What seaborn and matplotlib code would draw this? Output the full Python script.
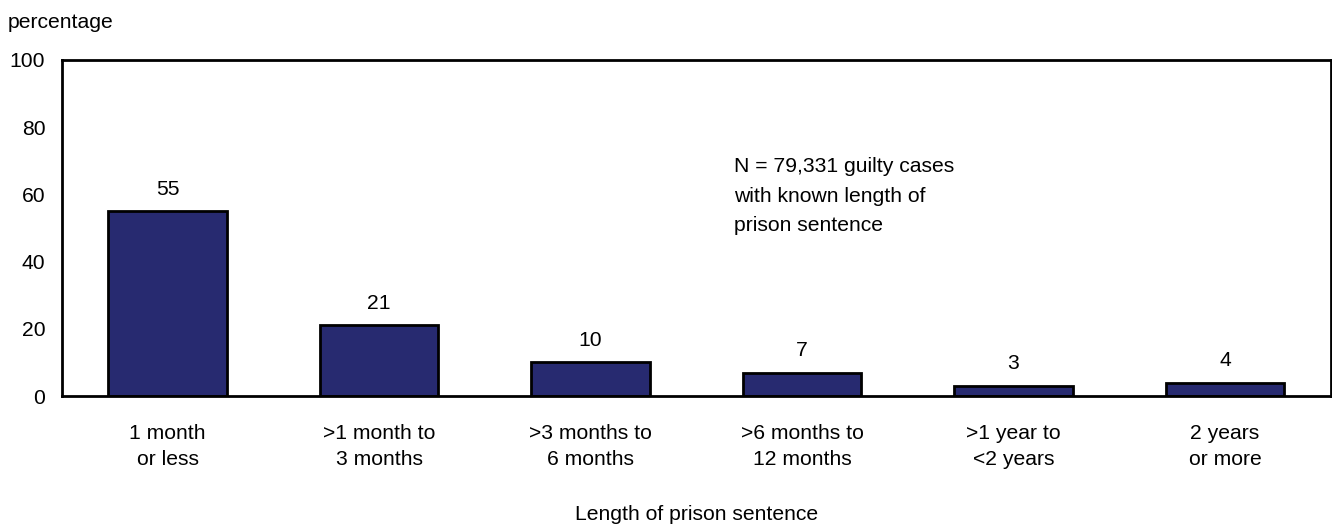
import pandas as pd
import seaborn as sns
import matplotlib.pyplot as plt

# -----------------------------
# Data
# -----------------------------
categories = [
    "1 month\nor less",
    ">1 month to\n3 months",
    ">3 months to\n6 months",
    ">6 months to\n12 months",
    ">1 year to\n<2 years",
    "2 years\nor more",
]
percentages = [55, 21, 10, 7, 3, 4]

df = pd.DataFrame({"length": categories, "pct": percentages})

sns.set_style("white")
plt.rcParams["font.family"] = ["Liberation Sans", "DejaVu Sans"]
plt.rcParams["text.color"] = "black"
plt.rcParams["xtick.color"] = "black"
plt.rcParams["ytick.color"] = "black"
plt.rcParams["axes.labelcolor"] = "black"

FS = 15.2

fig = plt.figure(figsize=(13.32, 5.26), dpi=100)
ax = fig.add_axes([0.0465, 0.247, 0.9525, 0.639])

sns.barplot(
    data=df, x="length", y="pct", ax=ax,
    color="#272a70", saturation=1, width=0.56,
    edgecolor="black", linewidth=2,
)

for i, v in enumerate(percentages):
    ax.annotate(str(v), (i, v), xytext=(0, 9), textcoords="offset points",
                ha="center", va="bottom", fontsize=FS)

ax.set_ylim(0, 100)
ax.set_xlim(-0.5, len(categories) - 0.5)
ax.set_yticks(range(0, 101, 20))
for s in ax.spines.values():
    s.set_linewidth(2)
    s.set_color("black")
ax.tick_params(axis="y", direction="in", length=7, width=2, labelsize=FS, pad=12)
ax.tick_params(axis="x", length=0, labelsize=FS, pad=20)
for t in ax.get_xticklabels():
    t.set_linespacing(1.5)

ax.set_ylabel("")
ax.set_xlabel("Length of prison sentence", fontsize=FS, labelpad=26)
fig.text(0.006, 0.958, "percentage", fontsize=FS, va="center", ha="left")

ax.text(2.68, 71, "N = 79,331 guilty cases\nwith known length of\nprison sentence",
        fontsize=FS, va="top", ha="left", linespacing=1.7)

plt.savefig("out.png", dpi=100)
